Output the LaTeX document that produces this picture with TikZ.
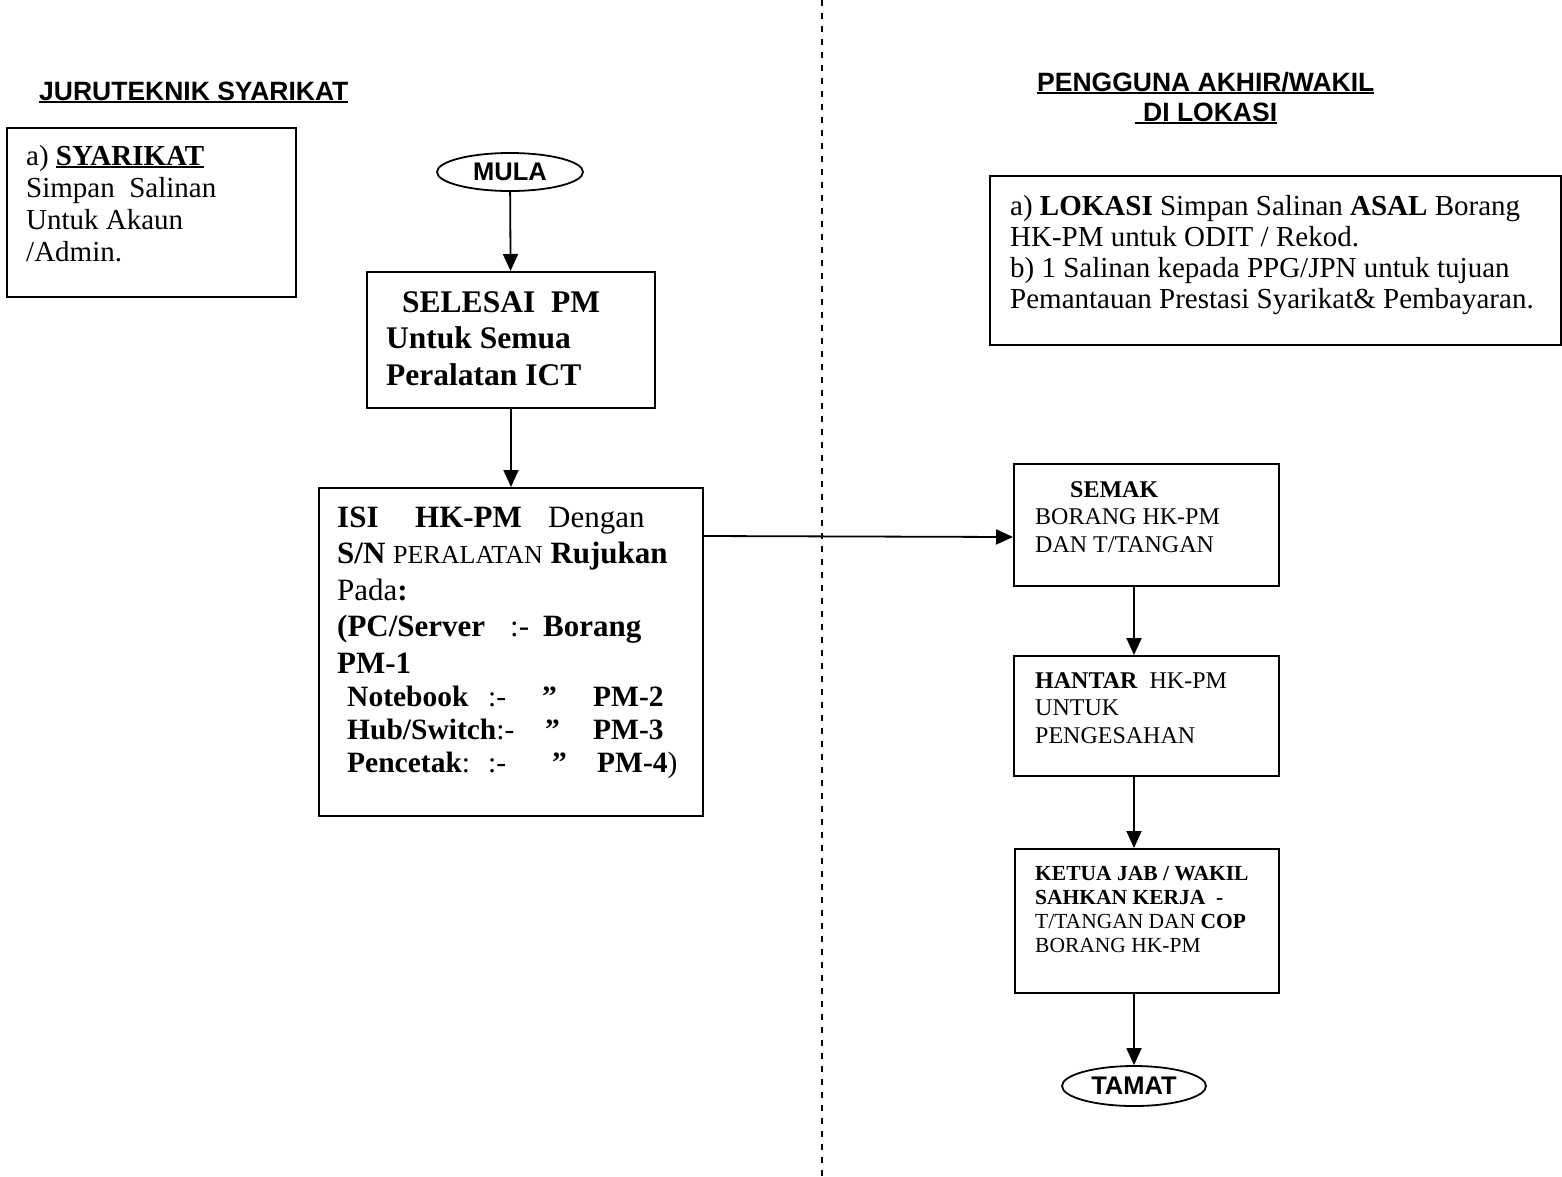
\documentclass[tikz,border=0pt]{standalone}
\usepackage{fontspec}
\setmainfont{Liberation Serif}
\setsansfont{Liberation Sans}
\usetikzlibrary{arrows.meta,shapes.geometric}

\tikzset{
  box/.style={draw, line width=2pt, inner sep=0pt, anchor=north west},
  term/.style={draw, ellipse, line width=1.8pt, inner sep=0pt, minimum width=146pt, minimum height=38pt,
    font=\sffamily\bfseries\fontsize{25.5}{28}\selectfont},
  txt/.style={anchor=base west, inner sep=0pt},
  head/.style={anchor=base west, inner sep=0pt, font=\sffamily\bfseries\fontsize{26.5}{30}\selectfont},
  arr/.style={line width=1.8pt, -{Triangle[length=17pt,width=15pt]}},
}
\newcommand{\fld}[2]{\makebox[#1pt][l]{#2}}
\newcommand{\lines}[1]{\parbox[t]{600pt}{#1}}
\newcommand{\uln}[1]{\setbox0\hbox{#1}\rlap{\rule[-3pt]{\wd0}{1.8pt}}\box0}

\begin{document}
\begin{tikzpicture}[x=1pt, y=-1pt]
  \useasboundingbox (0,0) rectangle (1562,1176);

  % dividing line
  \coordinate (divtop) at (822,0);
  \coordinate (divbot) at (822,1176);
  \draw[line width=1.8pt, dash pattern=on 6pt off 7pt] (divtop) -- (divbot);

  % headers
  \node[head] (headleft) at (39,100) {\uln{JURUTEKNIK SYARIKAT}};
  \node[head] (headright) at (1037,91) {\uln{PENGGUNA AKHIR/WAKIL}};
  \node[head] (headright2) at (1135,121) {\uln{\hspace{8pt}DI LOKASI}};

  % left side
  \node[box, minimum width=289pt, minimum height=169pt] (syarikat) at (6,127) {};
  \node[txt, font=\fontsize{29}{32.3}\selectfont] (syarikat-txt) at (26,165)
    {\lines{a) \textbf{\uln{SYARIKAT}}\\ Simpan\ \ Salinan\\ Untuk Akaun\\ /Admin.}};

  \node[term] (mula) at (510,172) {MULA};

  \node[box, minimum width=288pt, minimum height=136pt] (selesai) at (366,271) {};
  \node[txt, font=\bfseries\fontsize{31.5}{36.5}\selectfont] (selesai-txt) at (386,312)
    {\lines{\hspace*{16pt}SELESAI\ \ PM\\ Untuk Semua\\ Peralatan ICT}};

  \node[box, minimum width=384pt, minimum height=328pt] (isi) at (318,487) {};
  \node[txt, font=\fontsize{31}{36.5}\selectfont] (isi-txt) at (337,527)
    {\lines{\fld{78}{\textbf{ISI}}\fld{133}{\textbf{HK-PM}}Dengan\\
      \textbf{S/N} {\fontsize{26}{36.5}\selectfont PERALATAN} \textbf{Rujukan}\\
      Pada\textbf{:}\\
      \fld{173}{\textbf{(PC/Server}}\fld{33}{:-}\textbf{Borang}\\
      \textbf{PM-1}\\[-3.5pt]
      {\fontsize{29.5}{36.5}\selectfont\bfseries\hspace*{10pt}\fld{141}{Notebook}\fld{54}{\mdseries :-}\fld{51}{”}PM-2}\\[-3.5pt]
      {\fontsize{29.5}{36.5}\selectfont\bfseries\hspace*{10pt}\fld{198}{Hub/Switch\mdseries:-}\fld{48}{”}PM-3}\\[-3.5pt]
      {\fontsize{29.5}{36.5}\selectfont\bfseries\hspace*{10pt}\fld{141}{Pencetak\mdseries:}\fld{64}{\mdseries :-}\fld{45}{”}PM-4\mdseries)}}};

  % right side
  \node[box, minimum width=571pt, minimum height=169pt] (lokasi) at (989,175) {};
  \node[txt, font=\fontsize{29}{31}\selectfont] (lokasi-txt) at (1010,215)
    {\lines{a) \textbf{LOKASI} Simpan Salinan \textbf{ASAL} Borang\\ HK-PM untuk ODIT / Rekod.\\
      b) 1 Salinan kepada PPG/JPN untuk tujuan\\ Pemantauan Prestasi Syarikat\& Pembayaran.}};

  \node[box, minimum width=265pt, minimum height=122pt] (semak) at (1013,463) {};
  \node[txt, font=\fontsize{24}{27.5}\selectfont] (semak-txt) at (1035,497)
    {\lines{\hspace*{35pt}\textbf{SEMAK}\\ BORANG HK-PM\\ DAN T/TANGAN}};

  \node[box, minimum width=265pt, minimum height=120pt] (hantar) at (1013,655) {};
  \node[txt, font=\fontsize{24}{27.5}\selectfont] (hantar-txt) at (1035,688)
    {\lines{\textbf{HANTAR}\ \ HK-PM\\ UNTUK\\ PENGESAHAN}};

  \node[box, minimum width=264pt, minimum height=144pt] (ketua) at (1014,848) {};
  \node[txt, font=\fontsize{21.5}{24}\selectfont] (ketua-txt) at (1035,880)
    {\lines{\textbf{KETUA JAB / WAKIL}\\ \textbf{SAHKAN KERJA\ \ -}\\ T/TANGAN DAN \textbf{COP}\\ BORANG HK-PM}};

  \node[term, minimum width=144pt, minimum height=40pt] (tamat) at (1134,1086) {TAMAT};

  % connectors
  \draw[arr] (mula) -- (selesai);
  \draw[arr] (selesai) -- (isi);
  \draw[arr] ([shift={(0,49)}]isi.north east) -- ([shift={(0,12)}]semak.west);
  \draw[arr] (semak.south -| tamat) -- (hantar.north -| tamat);
  \draw[arr] (hantar.south -| tamat) -- (ketua.north -| tamat);
  \draw[arr] (ketua.south -| tamat) -- (tamat);

\end{tikzpicture}
\end{document}
